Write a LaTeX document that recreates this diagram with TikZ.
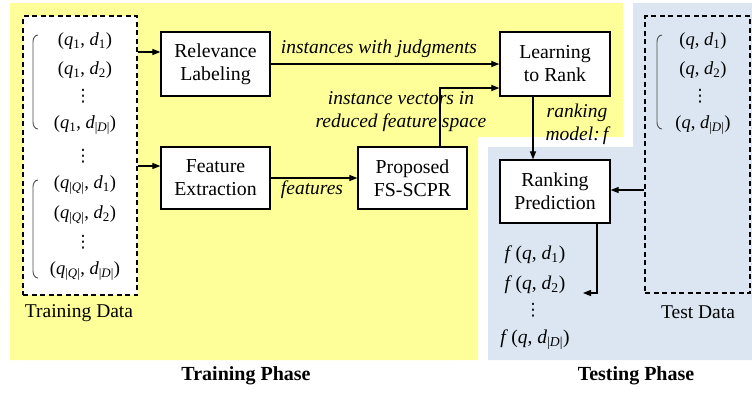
\documentclass[tikz,border=0pt]{standalone}
\usepackage{fontspec}
\setmainfont{Liberation Serif}
\newfontfamily\symfont{DejaVu Sans}
\usetikzlibrary{arrows.meta}
\definecolor{phaseyellow}{RGB}{255,255,153}
\definecolor{phaseblue}{RGB}{220,230,242}
\newcommand{\qd}[2]{(\textit{q}#1, \textit{d}#2)}
\newcommand{\sbs}[1]{\textsubscript{#1}}
\newcommand{\DD}{\sbs{|\textit{D}|}}
\newcommand{\QQ}{\sbs{|\textit{Q}|}}
\newcommand{\vdt}{{\symfont ⋮}}
\begin{document}
\begin{tikzpicture}[x=1pt,y=-1pt,
  font=\fontsize{19.5}{23}\selectfont,
  procbox/.style={draw=black,line width=1.3pt,fill=white,align=center,inner sep=0pt,font=\fontsize{19.8}{23}\selectfont},
  databox/.style={draw=black,line width=1.1pt,dash pattern=on 5pt off 3.5pt},
  conn/.style={line width=1.2pt,-{Triangle[length=8pt,width=6pt]}},
  lbl/.style={font=\fontsize{19.5}{23}\selectfont\itshape,align=center,inner sep=1pt},
  pair/.style={font=\fontsize{18.5}{22}\selectfont,inner sep=0pt},
  dots/.style={inner sep=0pt,font=\fontsize{17}{20}\selectfont},
  brk/.style={draw=black!70,line width=0.9pt},
  phase/.style={font=\fontsize{20}{23}\selectfont\bfseries}]
\useasboundingbox (0,0) rectangle (752,392);
% phase regions
\fill[phaseyellow] (10,3) -- (623,3) -- (623,137) -- (478,137) -- (478,360) -- (10,360) -- cycle;
\fill[phaseblue] (633,3) -- (752,3) -- (752,360) -- (488,360) -- (488,147) -- (633,147) -- cycle;
% data boxes
\node[databox,fill=white,minimum width=114pt,minimum height=279pt,inner sep=0pt] (train) at (80,155.5) {};
\node[databox,minimum width=105pt,minimum height=277pt,inner sep=0pt] (test) at (697.5,154.5) {};
\node (trainlbl) at (79,313) {Training Data};
\node (testlbl) at (698,312) {Test Data};
% training pairs
\node[pair] (t1) at (85,41) {\qd{\sbs{1}}{\sbs{1}}};
\node[pair] (t2) at (85,70) {\qd{\sbs{1}}{\sbs{2}}};
\node[dots] (t3) at (83,96) {\vdt};
\node[pair] (t4) at (85,125) {\qd{\sbs{1}}{\DD}};
\node[dots] (t5) at (83,156) {\vdt};
\node[pair] (t6) at (85,185) {\qd{\QQ}{\sbs{1}}};
\node[pair] (t7) at (85,215) {\qd{\QQ}{\sbs{2}}};
\node[dots] (t8) at (83,242) {\vdt};
\node[pair] (t9) at (85,271) {\qd{\QQ}{\DD}};
\draw[brk] (38,35) to[out=180,in=90] (33,42) -- (33,122) to[out=-90,in=180] (38,129);
\draw[brk] (38,180) to[out=180,in=90] (33,187) -- (33,271) to[out=-90,in=180] (38,278);
% test pairs
\node[pair] (s1) at (703,41) {\qd{}{\sbs{1}}};
\node[pair] (s2) at (703,70) {\qd{}{\sbs{2}}};
\node[dots] (s3) at (700,96) {\vdt};
\node[pair] (s4) at (703,125) {\qd{}{\DD}};
\draw[brk] (662,35) to[out=180,in=90] (657,42) -- (657,122) to[out=-90,in=180] (662,129);
% process boxes
\node[procbox,minimum width=109pt,minimum height=64pt] (rel) at (215.5,64) {Relevance\\Labeling};
\node[procbox,minimum width=109pt,minimum height=62pt] (fe) at (215.5,178) {Feature\\Extraction};
\node[procbox,minimum width=109pt,minimum height=62pt] (fs) at (412.5,178) {Proposed\\FS-SCPR};
\node[procbox,minimum width=110pt,minimum height=64pt] (ltr) at (555,64) {Learning\\to Rank};
\node[procbox,minimum width=110pt,minimum height=63pt] (rp) at (555,191.5) {Ranking\\Prediction};
% connectors
\coordinate (a1) at (train.east |- 0,52);
\coordinate (a2) at (train.east |- 0,166);
\draw[conn] (a1) -- (a1 -| rel.west);
\draw[conn] (a2) -- (a2 -| fe.west);
\draw[conn] (rel.east) -- (ltr.west);
\draw[conn] (fe.east) -- (fs.west);
\coordinate (fsup) at (440,147);
\draw[conn] (fsup) |- (ltr.west |- 0,88);
\coordinate (ltrdn) at (533,96);
\draw[conn] (ltrdn) -- (ltrdn |- rp.north);
\draw[conn] (test.west |- 0,190) -- (rp.east |- 0,190);
\coordinate (rpdn) at (597,223);
\coordinate (outend) at (583,293);
\draw[conn] (rpdn) |- (outend);
% labels
\node[lbl] (l1) at (379,49) {instances with judgments};
\node[lbl] (l2) at (401,112) {instance vectors in\\reduced feature space};
\node[lbl] (l3) at (312,190) {features};
\node[lbl] (l4) at (577,124) {ranking\\model:\,\textit{f}};
% outputs
\node[pair,font=\fontsize{19.5}{22}\selectfont] (o1) at (535,255) {\textit{f}\,\qd{}{\sbs{1}}};
\node[pair,font=\fontsize{19.5}{22}\selectfont] (o2) at (535,285) {\textit{f}\,\qd{}{\sbs{2}}};
\node[dots] (o3) at (533,310) {\vdt};
\node[pair,font=\fontsize{19.5}{22}\selectfont] (o4) at (535,340) {\textit{f}\,\qd{}{\DD}};
% phase titles
\node[phase] (trph) at (246,376) {Training Phase};
\node[phase] (teph) at (636,376) {Testing Phase};
\end{tikzpicture}
\end{document}
